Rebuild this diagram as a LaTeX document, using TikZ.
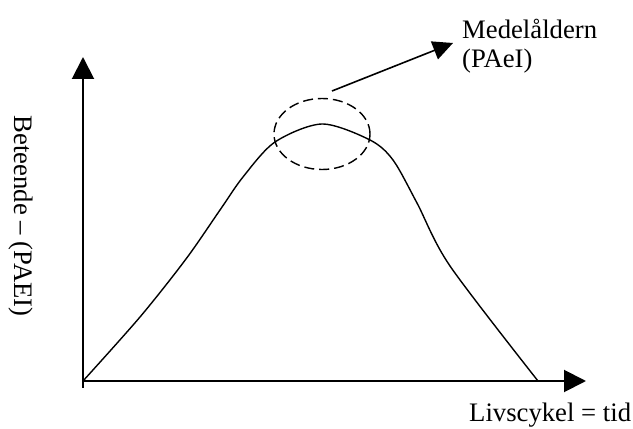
\documentclass[tikz,border=0pt]{standalone}
\usepackage{fontspec}
\setmainfont{Liberation Serif}
\usetikzlibrary{arrows.meta,shapes.geometric}
\begin{document}
\begin{tikzpicture}[x=1pt,y=1pt,
  axisline/.style={line width=2pt,-{Triangle[length=22pt,width=22pt]}},
  curveline/.style={line width=1.4pt},
  pointer/.style={line width=1.6pt,-{Triangle[length=20pt,width=19pt]}},
  ring/.style={draw,ellipse,line width=1.4pt,dash pattern=on 10pt off 5pt,
    minimum width=96pt,minimum height=71pt,inner sep=0pt},
  lbl/.style={inner sep=0pt,font=\fontsize{26.7}{29}\selectfont}]
\useasboundingbox (0,0) rectangle (633,429);
\fill[white] (0,0) rectangle (633,429);

% axes
\coordinate (O) at (83,48);
\coordinate (ybase) at (83,41);
\coordinate (ytop) at (83,372);
\coordinate (xend) at (586,48);
\draw[axisline] (ybase) -- (ytop);
\draw[axisline] (O) -- (xend);

% life-cycle curve
\draw[curveline] plot[smooth,tension=0.5] coordinates {
  (83,48) (140,112) (186,170) (220,219) (243,252) (275,287)
  (322,305) (370,289) (393,269) (417,226) (450,163) (538,48)};

% dashed ring around the peak
\node[ring] (peak) at (322,295) {};

% pointer to the label
\coordinate (ptr) at (332,338);
\coordinate (tip) at (453,386);
\draw[pointer] (ptr) -- (tip);

% labels
\node[lbl,anchor=base west] (mid1) at (462,390) {Medelåldern};
\node[lbl,anchor=base west] (mid2) at (462,361) {(PAeI)};
\node[lbl,anchor=base west] (xlab) at (469,7) {Livscykel = tid};
\node[lbl,rotate=-90] (ylab) at (21,213) {Beteende – (PAEI)};
\end{tikzpicture}
\end{document}
